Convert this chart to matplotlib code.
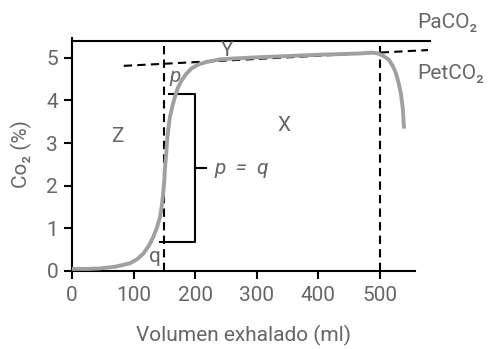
import matplotlib.pyplot as plt

plt.rcParams['font.family'] = ['Roboto', 'DejaVu Sans']

# capnogram
vol = [0, 25, 45, 70, 94, 106, 116, 125, 132, 138, 143, 146, 148, 150, 151, 153, 154, 156,
       159, 163, 167, 172, 178, 186, 194, 205, 218, 240, 260, 300, 400, 467, 485, 495,
       503, 510, 515, 521, 526, 530, 534, 537, 539]
co2 = [0.05, 0.05, 0.06, 0.10, 0.18, 0.28, 0.41, 0.60, 0.80, 1.02, 1.27, 1.55, 1.82, 2.15,
       2.44, 2.75, 2.99, 3.30, 3.61, 3.87, 4.08, 4.30, 4.47, 4.63, 4.75, 4.84, 4.90, 4.96,
       4.98, 5.01, 5.07, 5.10, 5.12, 5.11, 5.06, 5.00, 4.94, 4.80, 4.63, 4.42, 4.16, 3.80,
       3.34]

paco2 = 5.39
pet_x = [84, 578]
pet_y = [4.81, 5.18]
phase_lines = [150, 500]

# bracket p = q
br_x = 200
br_top = 4.15
br_bot = 0.67
br_top_left = 157
br_bot_left = 143
br_tick_end = 218

xticks = [0, 100, 200, 300, 400, 500]
yticks = [0, 1, 2, 3, 4, 5]

txt = '#666666'
fs = 15

fig = plt.figure(figsize=(4.9, 3.49), dpi=100)
ax = fig.add_axes([72 / 490, 1 - 271 / 349, 343 / 490, 233.3 / 349])

# phase boundaries and PetCO2 trend (under the curve)
for xv in phase_lines:
    ax.plot([xv, xv], [0, paco2], color='black', lw=1.5, ls=(0, (4, 2.5)), zorder=1)
ax.plot(pet_x, pet_y, color='black', lw=1.5, ls=(0, (4, 2.5)), clip_on=False, zorder=1)

# PaCO2 line
ax.plot([0, 581], [paco2, paco2], color='black', lw=1.5, clip_on=False, zorder=2)

# bracket
ax.plot([br_top_left, br_x, br_x, br_bot_left], [br_top, br_top, br_bot, br_bot],
        color='black', lw=1.5, zorder=2)
mid = (br_top + br_bot) / 2
ax.plot([br_x, br_tick_end], [mid, mid], color='black', lw=1.5, zorder=2)

# curve
ax.plot(vol, co2, color='#a0a0a0', lw=2.8, solid_capstyle='butt', zorder=3)

ax.set_xlim(0, 556.8)
ax.set_ylim(0, 5.47)
ax.set_xticks(xticks)
ax.set_yticks(yticks)
for s in ['top', 'right']:
    ax.spines[s].set_visible(False)
for s in ['left', 'bottom']:
    ax.spines[s].set_linewidth(1.5)
ax.tick_params(width=1.5, length=6, labelsize=fs, labelcolor=txt, pad=4)
ax.tick_params(axis='x', pad=5)

ax.set_xlabel('Volumen exhalado (ml)', fontsize=fs, color=txt, labelpad=14)
ax.set_ylabel('Co₂ (%)', fontsize=fs, color=txt, labelpad=10)

kw = dict(fontsize=fs, color=txt, ha='center', va='center')
ax.text(74, 3.15, 'Z', **kw)
ax.text(344, 3.42, 'X', **kw)
ax.text(251, 5.16, 'Y', **kw)
ax.text(167, 4.55, 'p', style='italic', **kw)
ax.text(135, 0.33, 'q', **kw)
ax.text(232, 2.41, 'p  =  q', fontsize=fs, color=txt, style='italic', ha='left', va='center')
ax.text(560, 5.83, 'PaCO₂', fontsize=fs, color=txt, ha='left', va='center', clip_on=False)
ax.text(560, 4.63, 'PetCO₂', fontsize=fs, color=txt, ha='left', va='center', clip_on=False)

fig.savefig('out.png', dpi=100)
